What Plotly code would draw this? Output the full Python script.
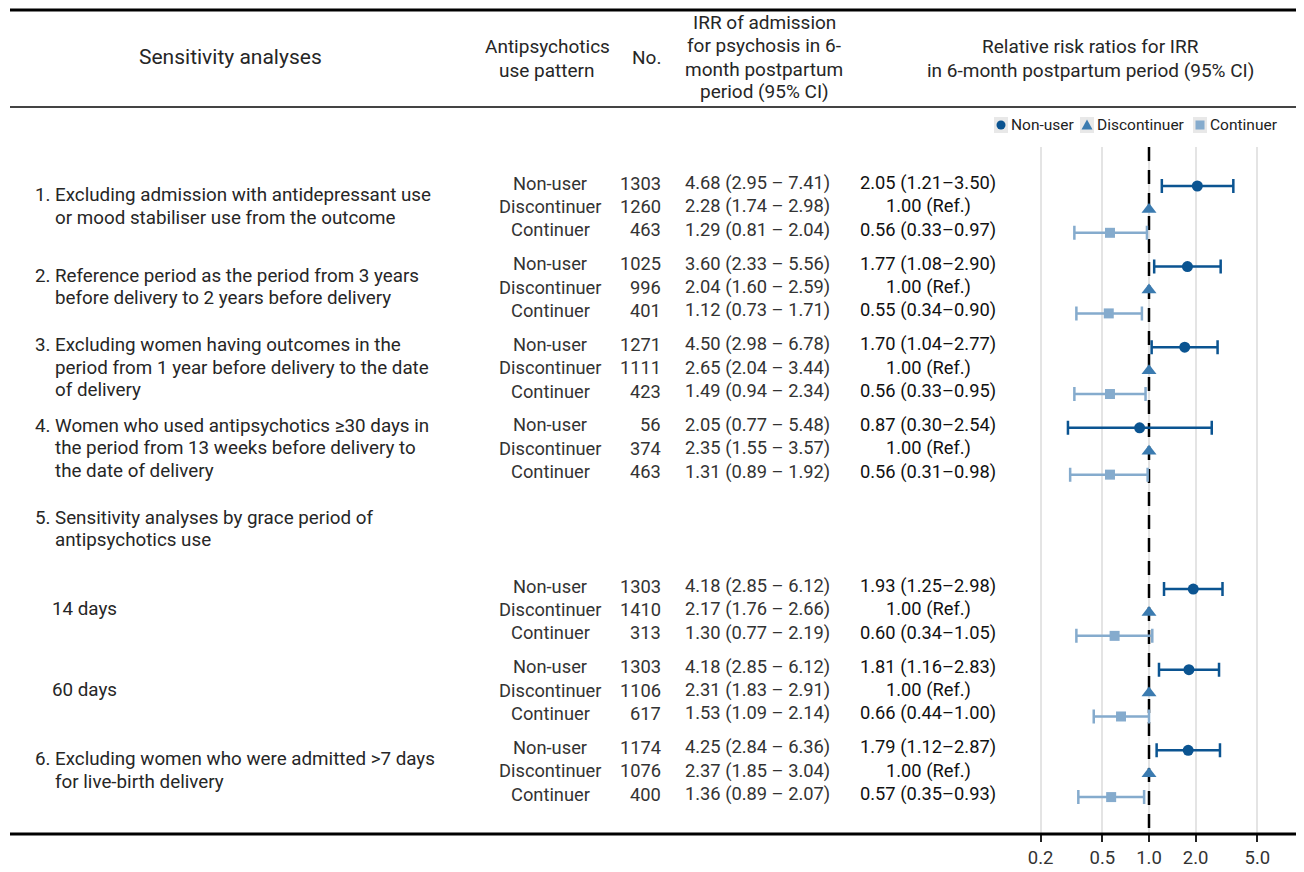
import plotly.graph_objects as go

# The page body has an 8px margin, so the visible canvas is 1296 x 864
OFF = 8
W, H = 1304 - OFF, 872 - OFF

# ---------------- data ----------------
patterns = ["Non-user", "Discontinuer", "Continuer"]

analysis_labels = [
    ["Excluding admission with antidepressant use", "or mood stabiliser use from the outcome"],
    ["Reference period as the period from 3 years", "before delivery to 2 years before delivery"],
    ["Excluding women having outcomes in the", "period from 1 year before delivery to the date", "of delivery"],
    ["Women who used antipsychotics \u226530 days in", "the period from 13 weeks before delivery to", "the date of delivery"],
    ["14 days"],
    ["60 days"],
    ["Excluding women who were admitted >7 days", "for live-birth delivery"],
]
analysis_numbers = ["1.", "2.", "3.", "4.", "", "", "6."]
grace_header = ["Sensitivity analyses by grace period of", "antipsychotics use"]
grace_number = "5."

n_nonuser = [1303, 1025, 1271, 56, 1303, 1303, 1174]
n_discont = [1260, 996, 1111, 374, 1410, 1106, 1076]
n_contin = [463, 401, 423, 463, 313, 617, 400]

irr_non = [4.68, 3.60, 4.50, 2.05, 4.18, 4.18, 4.25]
irr_non_lo = [2.95, 2.33, 2.98, 0.77, 2.85, 2.85, 2.84]
irr_non_hi = [7.41, 5.56, 6.78, 5.48, 6.12, 6.12, 6.36]
irr_dis = [2.28, 2.04, 2.65, 2.35, 2.17, 2.31, 2.37]
irr_dis_lo = [1.74, 1.60, 2.04, 1.55, 1.76, 1.83, 1.85]
irr_dis_hi = [2.98, 2.59, 3.44, 3.57, 2.66, 2.91, 3.04]
irr_con = [1.29, 1.12, 1.49, 1.31, 1.30, 1.53, 1.36]
irr_con_lo = [0.81, 0.73, 0.94, 0.89, 0.77, 1.09, 0.89]
irr_con_hi = [2.04, 1.71, 2.34, 1.92, 2.19, 2.14, 2.07]

rr_non = [2.05, 1.77, 1.70, 0.87, 1.93, 1.81, 1.79]
rr_non_lo = [1.21, 1.08, 1.04, 0.30, 1.25, 1.16, 1.12]
rr_non_hi = [3.50, 2.90, 2.77, 2.54, 2.98, 2.83, 2.87]
rr_dis = [1.00, 1.00, 1.00, 1.00, 1.00, 1.00, 1.00]
rr_con = [0.56, 0.55, 0.56, 0.56, 0.60, 0.66, 0.57]
rr_con_lo = [0.33, 0.34, 0.33, 0.31, 0.34, 0.44, 0.35]
rr_con_hi = [0.97, 0.90, 0.95, 0.98, 1.05, 1.00, 0.93]

x_tickvals = [0.2, 0.5, 1.0, 2.0, 5.0]
x_ticktext = ["0.2", "0.5", "1.0", "2.0", "5.0"]
null_value = 1.0

header_sens = "Sensitivity analyses"
header_pattern = ["Antipsychotics", "use pattern"]
header_n = "No."
header_irr = ["IRR of admission", "for psychosis in 6-", "month postpartum", "period (95% CI)"]
header_rr = ["Relative risk ratios for IRR", "in 6-month postpartum period (95% CI)"]

# ---------------- layout helpers ----------------
FONT = "Roboto, 'Liberation Sans', Arial, sans-serif"
TXT = "#262626"
C_NON = "#0b5491"
C_DIS = "#3b7bb0"
C_CON = "#85abcd"

BODY = 18.3
LEFT = 18.8
HEAD = 19

block_slots = [0, 1, 2, 3, 5, 6, 7]
STRIDE = 3.445
PX_UNIT = 23.4
Y0_PX = 186
TOP_PX, BOT_PX = 147, 834
TXT_SHIFT = -3 / PX_UNIT   # text sits slightly above the markers


def xp(px):
    return (px - OFF) / W


def yp(py):
    return 1 - (py - OFF) / H


def row_y(slot, r):
    return slot * STRIDE + r


y_top = (TOP_PX - Y0_PX) / PX_UNIT
y_bot = (BOT_PX - Y0_PX) / PX_UNIT

fig = go.Figure()

ys_non = [row_y(s, 0) for s in block_slots]
ys_dis = [row_y(s, 1) for s in block_slots]
ys_con = [row_y(s, 2) for s in block_slots]

# dashed null line (drawn first so markers sit on top)
fig.add_trace(go.Scatter(
    x=[null_value, null_value], y=[y_top, y_bot], mode="lines",
    line=dict(color="black", width=2.5, dash="14px,9px"),
    hoverinfo="skip", showlegend=False))

fig.add_trace(go.Scatter(
    x=rr_non, y=ys_non, mode="markers", name="Non-user",
    marker=dict(symbol="circle", size=11, color=C_NON),
    error_x=dict(type="data", symmetric=False,
                 array=[h - e for h, e in zip(rr_non_hi, rr_non)],
                 arrayminus=[e - l for e, l in zip(rr_non, rr_non_lo)],
                 color=C_NON, thickness=2.5, width=7),
    showlegend=False, cliponaxis=False))
fig.add_trace(go.Scatter(
    x=rr_dis, y=ys_dis, mode="markers", name="Discontinuer",
    marker=dict(symbol="triangle-up", size=13, color=C_DIS),
    showlegend=False, cliponaxis=False))
fig.add_trace(go.Scatter(
    x=rr_con, y=ys_con, mode="markers", name="Continuer",
    marker=dict(symbol="square", size=10, color=C_CON),
    error_x=dict(type="data", symmetric=False,
                 array=[h - e for h, e in zip(rr_con_hi, rr_con)],
                 arrayminus=[e - l for e, l in zip(rr_con, rr_con_lo)],
                 color=C_CON, thickness=2.5, width=7),
    showlegend=False, cliponaxis=False))

ann = []
shapes = []


def add_text(x, y, text, size=BODY, xanchor="left", yref="y", color=TXT):
    ann.append(dict(x=x, y=y, xref="paper", yref=yref, text=text, showarrow=False,
                    xanchor=xanchor, yanchor="middle",
                    font=dict(family=FONT, size=size, color=color)))


LINE = 0.962
# left column
for b, slot in enumerate(block_slots):
    lines = analysis_labels[b]
    num = analysis_numbers[b]
    nl = len(lines)
    mid = row_y(slot, 1) + TXT_SHIFT
    start = mid - (nl - 1) / 2 * LINE
    for i, t in enumerate(lines):
        yy = start + i * LINE
        if num:
            if i == 0:
                add_text(xp(33), yy, num, size=LEFT)
            add_text(xp(53), yy, t, size=LEFT)
        else:
            add_text(xp(50), yy, t, size=LEFT)

# grace-period header (slot 4)
mid = row_y(4, 1) + TXT_SHIFT
for i, t in enumerate(grace_header):
    yy = mid - 0.5 * LINE + i * LINE
    if i == 0:
        add_text(xp(33), yy, grace_number, size=LEFT)
    add_text(xp(53), yy, t, size=LEFT)

# table columns
for b, slot in enumerate(block_slots):
    rows = [
        (patterns[0], n_nonuser[b], irr_non[b], irr_non_lo[b], irr_non_hi[b],
         f"{rr_non[b]:.2f} ({rr_non_lo[b]:.2f}\u2013{rr_non_hi[b]:.2f})"),
        (patterns[1], n_discont[b], irr_dis[b], irr_dis_lo[b], irr_dis_hi[b],
         f"{rr_dis[b]:.2f} (Ref.)"),
        (patterns[2], n_contin[b], irr_con[b], irr_con_lo[b], irr_con_hi[b],
         f"{rr_con[b]:.2f} ({rr_con_lo[b]:.2f}\u2013{rr_con_hi[b]:.2f})"),
    ]
    for r, (pat, n, e, lo, hi, rrtxt) in enumerate(rows):
        yy = row_y(slot, r) + TXT_SHIFT
        add_text(xp(550), yy, pat, xanchor="center", color="#333333")
        add_text(xp(663), yy, str(n), xanchor="right", color="#333333")
        add_text(xp(757), yy, f"{e:.2f} ({lo:.2f} \u2013 {hi:.2f})", xanchor="center", color="#333333")
        add_text(xp(928), yy, rrtxt, xanchor="center", color="#111111")

# headers
add_text(xp(230), yp(57), header_sens, size=21, xanchor="center", yref="paper")
for t, py in zip(header_pattern, [47, 70]):
    add_text(xp(547), yp(py), t, size=HEAD, xanchor="center", yref="paper")
add_text(xp(646), yp(58), header_n, size=HEAD, xanchor="center", yref="paper")
for t, py in zip(header_irr, [22, 45, 69, 92]):
    add_text(xp(764), yp(py), t, size=HEAD, xanchor="center", yref="paper")
for t, py in zip(header_rr, [47, 70]):
    add_text(xp(1090), yp(py), t, size=HEAD, xanchor="center", yref="paper")

# horizontal rules
shapes.append(dict(type="line", xref="paper", yref="paper", x0=xp(10), x1=1, y0=yp(10), y1=yp(10),
                   line=dict(color="black", width=3)))
shapes.append(dict(type="line", xref="paper", yref="paper", x0=xp(10), x1=1, y0=yp(107), y1=yp(107),
                   line=dict(color="#444444", width=2)))
shapes.append(dict(type="line", xref="paper", yref="paper", x0=xp(10), x1=1, y0=yp(BOT_PX), y1=yp(BOT_PX),
                   line=dict(color="black", width=3), layer="above"))

# manual legend
LEG_Y = 125
leg_items = [("circle", C_NON, 1001, 1009, patterns[0]),
             ("triangle", C_DIS, 1087, 1095, patterns[1]),
             ("square", C_CON, 1200, 1208, patterns[2])]
for sym, col, cx, tx, label in leg_items:
    shapes.append(dict(type="rect", xref="paper", yref="paper",
                       x0=xp(cx - 7), x1=xp(cx + 7), y0=yp(LEG_Y + 8), y1=yp(LEG_Y - 8),
                       fillcolor="#e8e8e8", line=dict(width=0)))
    if sym == "circle":
        shapes.append(dict(type="circle", xref="paper", yref="paper",
                           x0=xp(cx - 4.5), x1=xp(cx + 4.5), y0=yp(LEG_Y + 4.5), y1=yp(LEG_Y - 4.5),
                           fillcolor=col, line=dict(width=0)))
    elif sym == "triangle":
        path = (f"M {xp(cx - 5.5)},{yp(LEG_Y + 4.5)} L {xp(cx + 5.5)},{yp(LEG_Y + 4.5)} "
                f"L {xp(cx)},{yp(LEG_Y - 5.5)} Z")
        shapes.append(dict(type="path", xref="paper", yref="paper", path=path,
                           fillcolor=col, line=dict(width=0)))
    else:
        shapes.append(dict(type="rect", xref="paper", yref="paper",
                           x0=xp(cx - 4.5), x1=xp(cx + 4.5), y0=yp(LEG_Y + 4.5), y1=yp(LEG_Y - 4.5),
                           fillcolor=col, line=dict(width=0)))
    add_text(xp(tx), yp(LEG_Y), label, size=15.5, xanchor="left", yref="paper", color="#222222")

fig.update_layout(
    width=W, height=H,
    margin=dict(l=0, r=0, t=0, b=0),
    paper_bgcolor="white", plot_bgcolor="white",
    showlegend=False,
    annotations=ann, shapes=shapes,
    xaxis=dict(type="log", range=[-1, 1], domain=[xp(994), 1],
               tickvals=x_tickvals, ticktext=x_ticktext,
               showgrid=True, gridcolor="#e4e4e4", gridwidth=2,
               zeroline=False, showline=False,
               ticks="outside", ticklen=7, tickwidth=2, tickcolor="#222222",
               tickfont=dict(family=FONT, size=18.5, color="#333333")),
    yaxis=dict(range=[y_bot, y_top], domain=[yp(BOT_PX), yp(TOP_PX)],
               visible=False, showgrid=False, zeroline=False),
)

fig.write_html("out.html")
